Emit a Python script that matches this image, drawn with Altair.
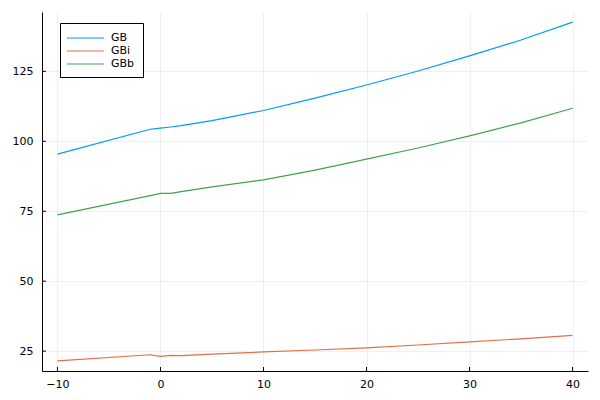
import altair as alt
import pandas as pd

x_vals = [-10, -1, 0, 1, 2, 5, 10, 15, 20, 25, 30, 35, 40]
gb = [95.4, 104.3, 104.7, 105.1, 105.6, 107.4, 111.0, 115.4, 120.1, 125.1, 130.5, 136.2, 142.6]
gbi = [21.5, 23.7, 23.1, 23.5, 23.4, 23.9, 24.7, 25.4, 26.2, 27.2, 28.3, 29.4, 30.6]
gbb = [73.7, 80.6, 81.4, 81.4, 82.0, 83.7, 86.2, 89.7, 93.6, 97.6, 101.9, 106.6, 111.8]
series_names = ["GB", "GBi", "GBb"]
series_colors = ["#009AFA", "#E36F47", "#3EA44E"]
x_ticks = [-10, 0, 10, 20, 30, 40]
y_ticks = [25, 50, 75, 100, 125]

rows = []
for name, vals in zip(series_names, [gb, gbi, gbb]):
    for xv, yv in zip(x_vals, vals):
        rows.append({"x": xv, "y": yv, "series": name})
df = pd.DataFrame(rows)

W, H = 546, 359
FONT = "DejaVu Sans"

xscale = alt.Scale(domain=[-11.5, 41.5], nice=False, zero=False)
yscale = alt.Scale(domain=[17.9, 146.2], nice=False, zero=False)

xaxis = alt.Axis(values=x_ticks, title=None, ticks=False, domainColor="black", domainWidth=1,
                 gridColor="black", gridOpacity=0.06, gridWidth=1, labelFont=FONT, labelFontSize=11,
                 labelColor="black", labelPadding=7, labelFlush=False)
yaxis = alt.Axis(values=y_ticks, title=None, ticks=False, domainColor="black", domainWidth=1,
                 gridColor="black", gridOpacity=0.06, gridWidth=1, labelFont=FONT, labelFontSize=11,
                 labelColor="black", labelPadding=9, labelFlush=False)

lines = alt.Chart(df).mark_line(strokeWidth=1.2).encode(
    x=alt.X("x:Q", scale=xscale, axis=xaxis),
    y=alt.Y("y:Q", scale=yscale, axis=yaxis),
    color=alt.Color("series:N", scale=alt.Scale(domain=series_names, range=series_colors),
                    sort=series_names,
                    legend=alt.Legend(title=None, orient="none", legendX=18, legendY=11,
                                      strokeColor="black", fillColor="white", padding=8,
                                      symbolType="M-1.3,0H4.7", symbolSize=152, symbolStrokeWidth=1.2,
                                      labelFont=FONT, labelFontSize=11, labelColor="black",
                                      rowPadding=1, labelOffset=29)),
)

xt = alt.Chart(pd.DataFrame({"x": x_ticks})).mark_rule(color="black", strokeWidth=1).encode(
    x=alt.X("x:Q", scale=xscale), y=alt.value(H - 4), y2=alt.value(H))
yt = alt.Chart(pd.DataFrame({"y": y_ticks})).mark_rule(color="black", strokeWidth=1).encode(
    y=alt.Y("y:Q", scale=yscale), x=alt.value(0), x2=alt.value(4))

chart = alt.layer(lines, xt, yt).properties(
    width=W, height=H,
    autosize=alt.AutoSizeParams(type="none"),
    padding={"left": 34, "top": 4, "right": 4, "bottom": 25},
).configure_view(stroke=None)

chart.save("out.html", embed_options={"renderer": "svg", "actions": False})
